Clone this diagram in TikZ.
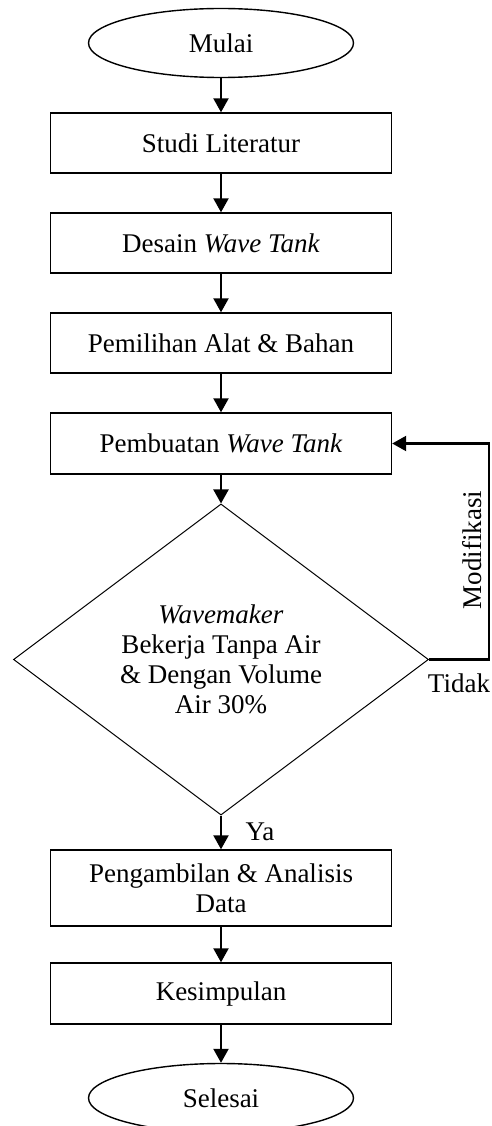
\documentclass[tikz,border=0pt]{standalone}
\usepackage{fontspec}
\setmainfont{Liberation Serif}
\usetikzlibrary{shapes.geometric,arrows.meta}
\begin{document}
\begin{tikzpicture}[x=1pt,y=-1pt,
  every node/.style={font=\fontsize{27}{30}\selectfont},
  terminal/.style={draw,line width=1.4pt,ellipse,inner sep=0pt,minimum width=265pt,minimum height=69pt},
  procbox/.style={draw,line width=1.4pt,rectangle,inner sep=0pt,minimum width=341pt,minimum height=60pt,align=center},
  decision/.style={draw,line width=1pt,diamond,inner sep=0pt,minimum width=415pt,minimum height=301pt,align=center},
  flow/.style={line width=2.2pt,-{Triangle[length=14pt,width=15pt]}},
  lbl/.style={inner sep=0pt}
]
\clip (0,0) rectangle (491,1126);
\node[terminal] (mulai) at (221,43) {Mulai};
\node[procbox] (studi) at (221,143) {Studi Literatur};
\node[procbox] (desain) at (221,243) {Desain \textit{Wave Tank}};
\node[procbox] (pemilihan) at (221,343) {Pemilihan Alat \& Bahan};
\node[procbox,minimum height=61pt] (pembuatan) at (221,443.5) {Pembuatan \textit{Wave Tank}};
\node[decision] (dec) at (221,659.5) {\textit{Wavemaker}\\Bekerja Tanpa Air\\\& Dengan Volume\\Air 30\%};
\node[procbox,minimum height=76pt] (ambil) at (221,888) {Pengambilan \& Analisis\\Data};
\node[procbox,minimum height=61pt] (simpul) at (221,993.5) {Kesimpulan};
\node[terminal] (selesai) at (221,1098) {Selesai};

\draw[flow] (mulai.south) -- (studi.north);
\draw[flow] (studi.south) -- (desain.north);
\draw[flow] (desain.south) -- (pemilihan.north);
\draw[flow] (pemilihan.south) -- (pembuatan.north);
\draw[flow] (pembuatan.south) -- (dec.north);
\draw[flow] (dec.south) -- (ambil.north);
\draw[flow] (ambil.south) -- (simpul.north);
\draw[flow] (simpul.south) -- (selesai.north);

\coordinate (corner) at (489,659.5);
\draw[flow] (dec.east) -- (corner) |- (pembuatan.east);

\node[lbl,rotate=90] (modif) at (472,550) {Modifikasi};
\node[lbl] (tidak) at (459,683) {Tidak};
\node[lbl] (ya) at (260,832) {Ya};
\end{tikzpicture}
\end{document}
